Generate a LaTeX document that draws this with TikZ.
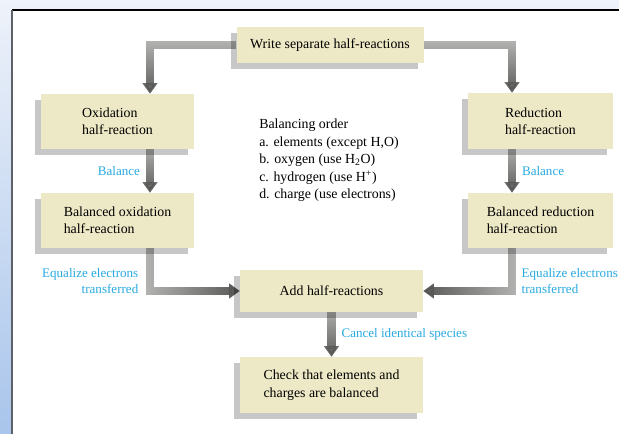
\documentclass[tikz,border=0pt]{standalone}
\usepackage{fontspec}
\setmainfont{Liberation Serif}
\usetikzlibrary{positioning,arrows.meta,shadows,fadings,backgrounds,calc}
\definecolor{redoxbox}{HTML}{EDE8C5}
\definecolor{redoxarrow}{HTML}{555553}
\definecolor{redoxcyan}{HTML}{29AAE1}
\definecolor{redoxsky}{HTML}{A9C5EB}
\definecolor{redoxpale}{HTML}{EEF2FA}
\definecolor{redoxedge}{HTML}{5F6168}
\tikzfading[name=redox fade down,top color=transparent!55,bottom color=transparent!0]
\tikzfading[name=redox fade right,left color=transparent!55,right color=transparent!0]
\tikzfading[name=redox fade left,left color=transparent!0,right color=transparent!55]

\begin{document}
\begin{tikzpicture}[
  x=0.75pt, y=-0.75pt,
  font=\fontsize{10.4}{13.1}\selectfont,
  stage/.style={fill=redoxbox,align=left,inner sep=0pt,
                drop shadow={shadow xshift=-4.5pt,shadow yshift=-4.5pt,
                             fill=black,opacity=.22}},
  arr/.style={-{Triangle[width=11pt,length=8pt]},line width=6.5pt,redoxarrow},
  down/.style={path fading=redox fade down},
  lbl/.style={font=\fontsize{9.8}{12}\selectfont,text=redoxcyan}
]
\useasboundingbox (0,0) rectangle (619,434);

% top box and the two columns
\node[stage,minimum width=140.25pt,minimum height=27pt] (write) at (330,45)
  {Write separate half-reactions};
\node[stage,minimum width=114.75pt,minimum height=41.25pt] (ox) at (117.5,121.5)
  {Oxidation\\ half-reaction};
\node[stage,minimum width=114.75pt,minimum height=41.25pt] (balox) at (117.5,220.5)
  {Balanced oxidation\\ half-reaction};
\node[stage,minimum width=108.75pt,minimum height=42pt] (red) at (540.5,121)
  {Reduction\\ half-reaction};
\node[stage,minimum width=108.75pt,minimum height=41.25pt] (balred) at (540.5,220.5)
  {Balanced reduction\\ half-reaction};

% bottom boxes
\node[stage,minimum width=137.25pt,minimum height=31.5pt] (add) at (331.5,291)
  {Add half-reactions};
\node[stage,minimum width=137.25pt,minimum height=42pt] (check) at (331.5,385)
  {Check that elements and\\ charges are balanced};

\node[anchor=north west,align=left,inner sep=0pt] (order) at (259,119)
  {Balancing order\\ a. elements (except H,O)\\ b. oxygen (use H\textsubscript{2}O)\\
   c. hydrogen (use H\textsuperscript{+})\\ d. charge (use electrons)};

\coordinate (lcol) at (150,0);
\coordinate (rcol) at (512,0);

\begin{scope}[on background layer]
  \shade[top color=redoxpale,bottom color=redoxsky] (0,0) rectangle (619,434);
  \fill[white] (12,10) rectangle (619,434);
  \draw[black,line width=0.8pt] (12,10) -- (619,10);
  \draw[redoxedge,line width=1.5pt] (12,10) -- (12,434);

  \draw[arr,down] (write.west) -| (lcol |- ox.north);
  \draw[arr,down] (write.east) -| (rcol |- red.north);
  \draw[arr,down] (lcol |- ox.south) -- (lcol |- balox.north);
  \draw[arr,down] (rcol |- red.south) -- (rcol |- balred.north);
  \draw[arr,path fading=redox fade right] (lcol |- balox.south) |- (add.west);
  \draw[arr,path fading=redox fade left] (rcol |- balred.south) |- (add.east);
  \draw[arr,down] (add.south) -- (check.north);
\end{scope}

% step labels
\path (lcol |- ox.south) -- (lcol |- balox.north) node[lbl,midway,left=4pt] {Balance};
\path (rcol |- red.south) -- (rcol |- balred.north) node[lbl,midway,right=4pt] {Balance};
\path (add.south) -- (check.north) node[lbl,midway,right=4pt] {Cancel identical species};
\node[lbl,align=right,anchor=east] (eqox) at ($(lcol |- add.west)+(-7,-10)$)
  {Equalize electrons\\ transferred};
\node[lbl,align=left,anchor=west] (eqred) at ($(rcol |- add.east)+(5,-10)$)
  {Equalize electrons\\ transferred};
\end{tikzpicture}
\end{document}
